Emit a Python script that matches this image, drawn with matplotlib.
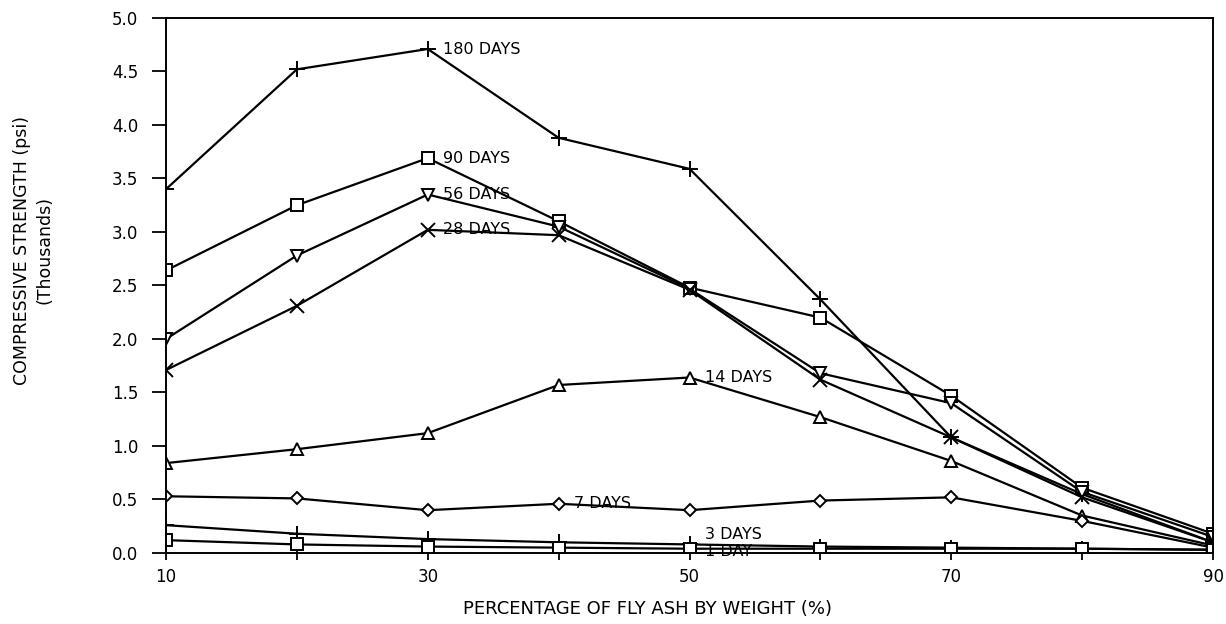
import matplotlib
matplotlib.use('Agg')
import matplotlib.pyplot as plt

fly_ash = [10, 20, 30, 40, 50, 60, 70, 80, 90]

days_180 = [3.40, 4.52, 4.71, 3.88, 3.59, 2.37, 1.08, 0.55, 0.10]
days_90 = [2.64, 3.25, 3.69, 3.10, 2.48, 2.20, 1.47, 0.61, 0.18]
days_56 = [2.00, 2.78, 3.35, 3.05, 2.47, 1.68, 1.40, 0.57, 0.15]
days_28 = [1.71, 2.31, 3.02, 2.97, 2.46, 1.62, 1.08, 0.52, 0.10]
days_14 = [0.84, 0.97, 1.12, 1.57, 1.64, 1.27, 0.86, 0.35, 0.07]
days_7 = [0.53, 0.51, 0.40, 0.46, 0.40, 0.49, 0.52, 0.30, 0.05]
days_3 = [0.26, 0.18, 0.13, 0.10, 0.08, 0.06, 0.05, 0.04, 0.03]
day_1 = [0.12, 0.08, 0.06, 0.05, 0.04, 0.04, 0.04, 0.04, 0.03]

# (values, marker, marker size, label text, point the label sits by, label nudge)
series = [
    (days_180, '+', 11, '180 DAYS', 2, 0.0),
    (days_90, 's', 8, '90 DAYS', 2, 0.0),
    (days_56, 'v', 8, '56 DAYS', 2, 0.0),
    (days_28, 'x', 10, '28 DAYS', 2, 0.0),
    (days_14, '^', 8, '14 DAYS', 4, 0.0),
    (days_7, 'D', 6.5, '7 DAYS', 3, 0.0),
    (days_3, '+', 11, '3 DAYS', 4, 0.09),
    (day_1, 's', 8, '1 DAY', 4, -0.025),
]

fig = plt.figure(figsize=(12.26, 6.24), dpi=100)
ax = fig.add_axes([0.1354, 0.1138, 0.8540, 0.8574])

for vals, mk, ms, lab, idx, dy in series:
    ax.plot(fly_ash, vals, color='black', lw=1.6, marker=mk, ms=ms,
            mfc='white', mec='black', mew=1.4)
    ax.text(fly_ash[idx] + 1.2, vals[idx] + dy, lab, fontsize=11.5,
            va='center', ha='left')

ax.set_xlim(10, 90)
ax.set_ylim(0, 5)
ax.set_xticks(fly_ash)
ax.set_xticklabels(['10', '', '30', '', '50', '', '70', '', '90'])
ax.set_yticks([0, 0.5, 1, 1.5, 2, 2.5, 3, 3.5, 4, 4.5, 5])
ax.set_yticklabels(['%.1f' % v for v in ax.get_yticks()])
ax.tick_params(axis='y', direction='out', length=10, width=1.3,
               labelsize=12, pad=10)
ax.tick_params(axis='x', direction='inout', length=10, width=1.3,
               labelsize=12, pad=6)
for s in ax.spines.values():
    s.set_linewidth(1.4)

ax.set_xlabel('PERCENTAGE OF FLY ASH BY WEIGHT (%)', fontsize=13)
ax.xaxis.set_label_coords(0.46, -0.088)
ax.set_ylabel('COMPRESSIVE STRENGTH (psi)\n(Thousands)', fontsize=12.5,
              linespacing=1.35)
ax.yaxis.set_label_coords(-0.107, 0.566)

fig.savefig('out.png', dpi=100)
